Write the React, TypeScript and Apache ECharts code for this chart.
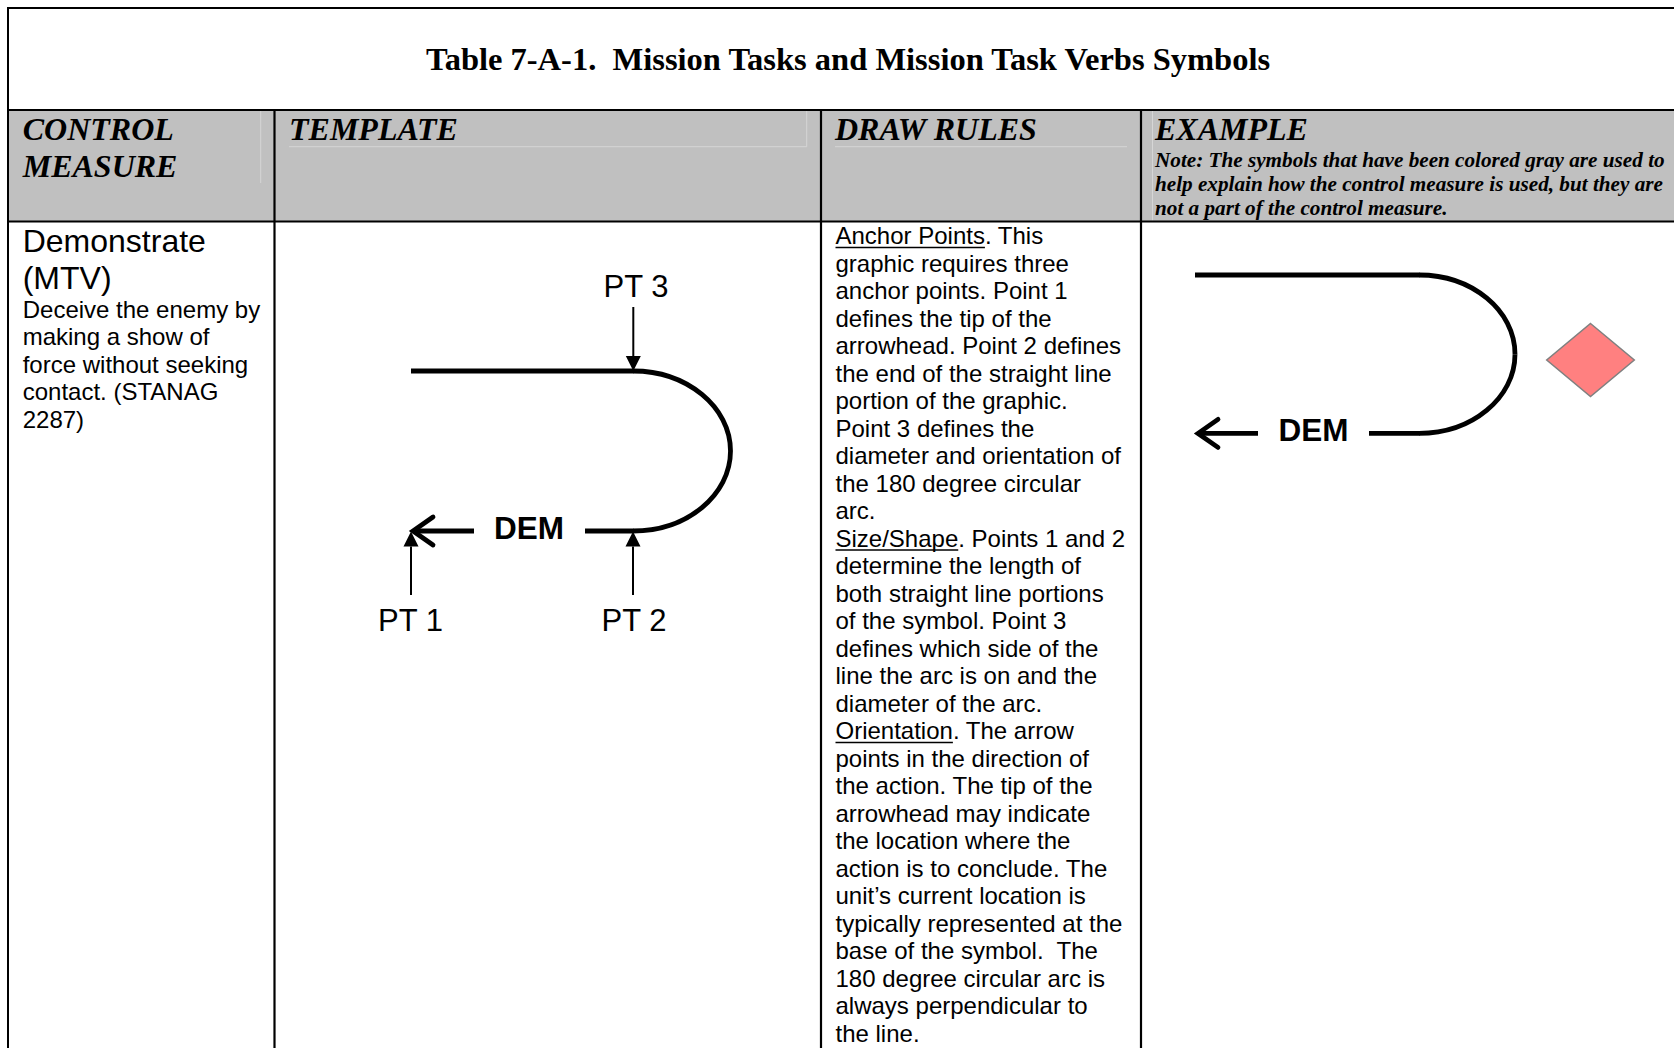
import React, { useEffect, useRef } from "react";
import * as echarts from "echarts";

// ---------- content ----------
const titleText = "Table 7-A-1.  Mission Tasks and Mission Task Verbs Symbols";
const headerTitles = ["CONTROL", "TEMPLATE", "DRAW RULES", "EXAMPLE"];
const headerSecondLine = "MEASURE";
const noteLines = [
  "Note: The symbols that have been colored gray are used to",
  "help explain how the control measure is used, but they are",
  "not a part of the control measure.",
];
const measureName = ["Demonstrate", "(MTV)"];
const measureDesc = [
  "Deceive the enemy by",
  "making a show of",
  "force without seeking",
  "contact. (STANAG",
  "2287)",
];
const drawRuleLines = [
  "Anchor Points. This",
  "graphic requires three",
  "anchor points. Point 1",
  "defines the tip of the",
  "arrowhead. Point 2 defines",
  "the end of the straight line",
  "portion of the graphic.",
  "Point 3 defines the",
  "diameter and orientation of",
  "the 180 degree circular",
  "arc.",
  "Size/Shape. Points 1 and 2",
  "determine the length of",
  "both straight line portions",
  "of the symbol. Point 3",
  "defines which side of the",
  "line the arc is on and the",
  "diameter of the arc.",
  "Orientation. The arrow",
  "points in the direction of",
  "the action. The tip of the",
  "arrowhead may indicate",
  "the location where the",
  "action is to conclude. The",
  "unit\u2019s current location is",
  "typically represented at the",
  "base of the symbol.  The",
  "180 degree circular arc is",
  "always perpendicular to",
  "the line.",
];
const underlinedLeads: Record<number, string> = {
  0: "Anchor Points",
  11: "Size/Shape",
  18: "Orientation",
};
const pointLabels = ["PT 1", "PT 2", "PT 3"];
const symbolLabel = "DEM";

// ---------- layout ----------
const W = 1674;
const H = 1048;
const SANS = '"Liberation Sans", Arial, sans-serif';
const SERIF = '"Liberation Serif", "Times New Roman", serif';
const BORDER_X = 8;
const TOP_Y = 8;
const TITLE_BOTTOM = 110;
const HEADER_BOTTOM = 221.5;
const COL_X = [274.5, 821, 1141];
const HEADER_TEXT_X = [22.7, 289, 835, 1155];
const GRAY = "#c0c0c0";

const KAPPA = 0.5523;

function measure(text: string, font: string) {
  const c = document.createElement("canvas");
  const ctx = c.getContext("2d");
  if (!ctx) return text.length * 12;
  ctx.font = font;
  return ctx.measureText(text).width;
}

function txt(
  text: string,
  x: number,
  y: number,
  size: number,
  family: string,
  opts: { weight?: string; italic?: boolean; align?: string } = {}
) {
  const align = opts.align || "left";
  return {
    type: "text",
    x,
    y,
    silent: true,
    style: {
      text,
      fill: "#000",
      fontSize: size,
      fontFamily: family,
      fontWeight: opts.weight || "normal",
      fontStyle: opts.italic ? "italic" : "normal",
      align,
      textAlign: align,
      verticalAlign: "middle",
      textVerticalAlign: "middle",
    },
  };
}

function line(x1: number, y1: number, x2: number, y2: number, w: number, color = "#000") {
  return {
    type: "line",
    silent: true,
    shape: { x1, y1, x2, y2 },
    style: { stroke: color, lineWidth: w, lineCap: "butt" },
  };
}

function halfEllipse(cx: number, cy: number, rx: number, ry: number, w: number) {
  const st = { stroke: "#000", lineWidth: w, fill: "none", lineCap: "butt" };
  return [
    {
      type: "bezierCurve",
      silent: true,
      shape: {
        x1: cx, y1: cy - ry, x2: cx + rx, y2: cy,
        cpx1: cx + KAPPA * rx, cpy1: cy - ry,
        cpx2: cx + rx, cpy2: cy - KAPPA * ry,
      },
      style: st,
    },
    {
      type: "bezierCurve",
      silent: true,
      shape: {
        x1: cx + rx, y1: cy, x2: cx, y2: cy + ry,
        cpx1: cx + rx, cpy1: cy + KAPPA * ry,
        cpx2: cx + KAPPA * rx, cpy2: cy + ry,
      },
      style: st,
    },
  ];
}

// symbol: straight top line, half ellipse, bottom segment, DEM, arrow
function demSymbol(o: {
  lineLeft: number; arcX: number; topY: number; rx: number; ry: number;
  bottomLeft: number; demX: number; tipX: number; shaftRight: number;
}) {
  const bottomY = o.topY + 2 * o.ry;
  const lw = 4.8;
  const els: any[] = [];
  els.push(line(o.lineLeft, o.topY, o.arcX + 0.5, o.topY, lw));
  els.push(...halfEllipse(o.arcX, o.topY + o.ry, o.rx, o.ry, lw));
  els.push(line(o.bottomLeft, bottomY, o.arcX + 0.5, bottomY, lw));
  els.push(txt(symbolLabel, o.demX, bottomY - 3.5, 31.5, SANS, { weight: "bold", align: "center" }));
  els.push(line(o.tipX + 3, bottomY, o.shaftRight, bottomY, lw));
  els.push({
    type: "polyline",
    silent: true,
    shape: { points: [[o.tipX + 20, bottomY - 14], [o.tipX, bottomY], [o.tipX + 20, bottomY + 14]] },
    style: { stroke: "#000", lineWidth: lw, fill: "none", lineJoin: "miter", lineCap: "round" },
  });
  return els;
}

function pointer(x: number, tipY: number, tailY: number) {
  const dir = tailY > tipY ? 1 : -1; // 1: pointing up
  const base = tipY + dir * 15;
  return [
    line(x, tailY, x, base, 2),
    {
      type: "polygon",
      silent: true,
      shape: { points: [[x - 7.5, base], [x + 7.5, base], [x, tipY]] },
      style: { fill: "#000" },
    },
  ];
}

function buildGraphics() {
  const els: any[] = [];
  // white background
  els.push({ type: "rect", silent: true, shape: { x: 0, y: 0, width: W, height: H }, style: { fill: "#fff" } });
  // header gray
  els.push({
    type: "rect",
    silent: true,
    shape: { x: BORDER_X, y: TITLE_BOTTOM, width: W - BORDER_X, height: HEADER_BOTTOM - TITLE_BOTTOM },
    style: { fill: GRAY },
  });
  // faint inner lines in header
  const faint = "#d6d6d6";
  els.push(line(260.7, TITLE_BOTTOM, 260.7, 183, 1, faint));
  els.push(line(289, 146.7, 806.7, 146.7, 1, faint));
  els.push(line(806.7, TITLE_BOTTOM, 806.7, 146.7, 1, faint));
  els.push(line(835, 146.7, 1127, 146.7, 1, faint));
  els.push(line(1152.5, TITLE_BOTTOM + 1, 1152.5, HEADER_BOTTOM - 1, 1, faint));

  // borders
  els.push(line(BORDER_X - 1, TOP_Y, W, TOP_Y, 2));
  els.push(line(BORDER_X, TOP_Y, BORDER_X, H, 2));
  els.push(line(BORDER_X, TITLE_BOTTOM, W, TITLE_BOTTOM, 2));
  els.push(line(BORDER_X, HEADER_BOTTOM, W, HEADER_BOTTOM, 2.2));
  COL_X.forEach((x) => els.push(line(x, TITLE_BOTTOM, x, H, 2.2)));

  // title
  els.push(txt(titleText, 848, 58.7, 32.5, SERIF, { weight: "bold", align: "center" }));

  // headers
  headerTitles.forEach((t, i) => {
    els.push(txt(t, HEADER_TEXT_X[i], 128.8, 32, SERIF, { weight: "bold", italic: true }));
  });
  els.push(txt(headerSecondLine, HEADER_TEXT_X[0], 165.9, 32, SERIF, { weight: "bold", italic: true }));
  noteLines.forEach((t, i) => {
    els.push(txt(t, 1155, 159.6 + i * 24.2, 21.2, SERIF, { weight: "bold", italic: true }));
  });

  // column 1
  measureName.forEach((t, i) => {
    els.push(txt(t, 22.7, 241 + i * 36.6, 32, SANS));
  });
  measureDesc.forEach((t, i) => {
    els.push(txt(t, 22.7, 309 + i * 27.6, 24, SANS));
  });

  // draw rules
  const ruleX = 835.5;
  drawRuleLines.forEach((t, i) => {
    const cy = 235.5 + i * 27.5;
    els.push(txt(t, ruleX, cy, 24, SANS));
    const lead = underlinedLeads[i];
    if (lead) {
      const w = measure(lead, `24px ${SANS}`);
      els.push(line(ruleX, cy + 12, ruleX + w, cy + 12, 1.6));
    }
  });

  // template symbol
  els.push(
    ...demSymbol({
      lineLeft: 411, arcX: 633, topY: 371, rx: 97.5, ry: 80,
      bottomLeft: 585, demX: 529, tipX: 413, shaftRight: 474,
    })
  );
  els.push(...pointer(633.3, 371, 307));
  els.push(...pointer(411, 531.5, 595));
  els.push(...pointer(633, 531.5, 595));
  els.push(txt(pointLabels[2], 636, 286, 31, SANS, { align: "center" }));
  els.push(txt(pointLabels[0], 410.5, 620, 31, SANS, { align: "center" }));
  els.push(txt(pointLabels[1], 634, 620, 31, SANS, { align: "center" }));

  // example symbol
  els.push(
    ...demSymbol({
      lineLeft: 1195, arcX: 1419, topY: 275, rx: 96, ry: 79.2,
      bottomLeft: 1369, demX: 1313.5, tipX: 1198, shaftRight: 1258,
    })
  );
  // enemy diamond
  els.push({
    type: "polygon",
    silent: true,
    shape: { points: [[1590.5, 323.5], [1634.3, 360], [1590.5, 396.5], [1546.7, 360]] },
    style: { fill: "#ff8080", stroke: "#808080", lineWidth: 1.5 },
  });

  return els;
}

export default function App() {
  const ref = useRef<HTMLDivElement>(null);
  useEffect(() => {
    document.body.style.margin = "0";
    document.body.style.background = "#fff";
    if (!ref.current) return;
    const chart = echarts.init(ref.current, null, { renderer: "svg" });
    chart.setOption({
      animation: false,
      backgroundColor: "#fff",
      graphic: { elements: buildGraphics() },
    });
    return () => chart.dispose();
  }, []);
  return <div ref={ref} style={{ width: W, height: H, overflow: "hidden" }} />;
}
